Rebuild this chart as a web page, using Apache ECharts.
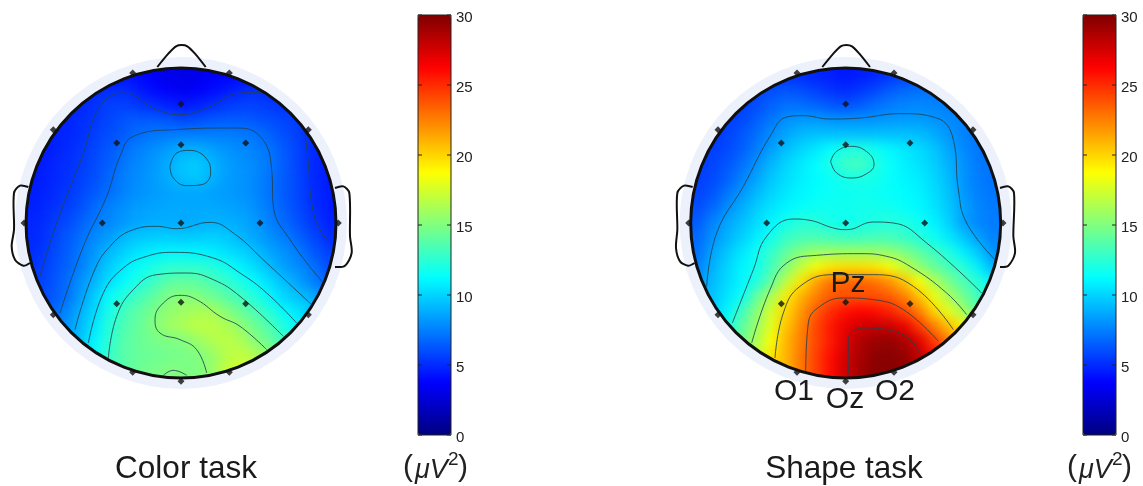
<!DOCTYPE html>
<html><head><meta charset="utf-8">
<style>
html,body{margin:0;padding:0;background:#fff;width:1143px;height:486px;overflow:hidden}
.clip{position:absolute;left:0;top:0;width:1143px;height:486px}
.heat{position:absolute;left:0;top:0;width:1143px;height:486px;filter:blur(6px)}
#top{position:absolute;left:0;top:0;width:1143px;height:486px}
</style>
<script src="https://cdn.jsdelivr.net/npm/echarts@6/dist/echarts.min.js"></script>
</head><body>
<div class="clip" style="clip-path:circle(155px at 181px 223px)"><div class="heat" id="heatL"></div></div>
<div class="clip" style="clip-path:circle(155px at 845.7px 223px)"><div class="heat" id="heatR"></div></div>
<div id="top"></div>
<script>
// Scalp values (µV²), rows top to bottom, columns left to right
const colorTaskValues = [
[4.4,4.4,4.4,4.4,4.4,4.3,4.2,3.9,3.5,3.2,3,3.2,3.5,3.8,4,4.3,4.5,4.5,4.5,4.5,4.5],
[4.4,4.4,4.4,4.6,4.8,5,5,4.5,4,3.6,3.4,3.6,4,4.4,4.8,5,4.9,4.8,4.7,4.7,4.7],
[4.4,4.4,4.5,4.8,5.2,5.6,5.6,5.3,5,4.6,4.3,4.6,5,5.4,5.6,5.6,5.4,5.2,5,5,5],
[4.4,4.5,4.7,5.1,5.3,5.8,6.2,6.4,6.4,6.2,5.8,6,6.3,6.4,6.4,6.2,6,5.7,5.4,5,4.8],
[4.4,4.6,4.8,5.1,5.6,6,6.4,6.9,7.2,7.3,7.4,7.4,7.4,7.4,7.3,7.1,6.6,6,5.5,5,4.8],
[4.4,4.6,4.9,5.3,5.8,6.3,6.9,7.5,7.9,8.3,8.8,8.9,8.5,8.1,7.8,7.5,7.1,6.3,5.6,4.9,4.6],
[4.4,4.7,5,5.4,5.9,6.5,7.2,7.7,8.2,8.8,9.5,9.7,9.1,8.4,8,7.7,7.2,6.4,5.6,4.9,4.5],
[4.5,4.8,5.1,5.6,6.1,6.8,7.5,7.9,8.3,8.8,9.4,9.6,9,8.4,8.1,7.7,7.1,6.4,5.7,4.9,4.5],
[4.6,4.9,5.3,5.8,6.4,7,7.6,8,8.3,8.5,8.6,8.6,8.5,8.3,8.1,7.7,7.1,6.4,5.7,5,4.5],
[4.7,5.1,5.5,6.1,6.9,7.6,8,8.4,8.6,8.7,8.7,8.7,8.7,8.6,8.4,7.9,7.3,6.5,5.8,5.1,4.5],
[4.8,5.3,5.8,6.5,7.3,7.7,8.2,8.6,8.8,8.8,8.7,8.8,9,8.9,8.7,8.2,7.5,6.8,6,5.3,4.7],
[4.9,5.5,6.2,7,7.8,8.4,9.2,9.6,9.8,9.8,9.7,9.8,9.9,9.7,9.1,8.6,8,7.4,6.6,5.8,5],
[5.1,5.7,6.4,7.3,8.2,9.2,9.9,10.5,10.8,11,11,10.95,10.8,10.4,10,9.4,8.6,8,7.3,6.3,5.6],
[5.3,5.9,6.6,7.4,8.6,9.8,10.7,11.4,12,12.5,12.6,12.6,12.3,11.7,10.9,10.2,9.3,8.4,7.8,7.1,6],
[5.5,6,6.8,8,9.1,10.3,11.2,12.1,13,13.9,14.1,14,13.4,12.8,11.9,11.1,10.2,9.3,8.4,7.4,6.5],
[5.6,6.2,6.9,8.3,9.8,11.4,12.3,13.2,14,14.9,15.2,15.1,14.5,13.8,13.1,12.2,11,10,9.4,8.8,7.2],
[6,6.5,7.6,8.9,10.2,11.9,13.2,14,14.8,15.5,15.9,16.2,16.2,15.2,14.3,13.4,12.3,11.1,10.4,9.5,8],
[6.5,7,8,9.2,10.6,12.3,13.5,14.2,15,15.8,16.3,16.8,16.8,16.4,15.4,14.4,13.5,12,11,10,8.8],
[7,7.5,8.3,9.5,11,12.5,13.8,14.3,14.7,14.9,15,15.7,16.4,16.8,16.3,15.2,14.2,13,11.5,10.5,9],
[7,8,9,10,11.5,12.9,13.8,14.2,14.4,14.6,14.8,14.9,15.6,16.6,17,16.4,15.4,14,12.5,11,9.5],
[7,8,9,10,11.5,13,13.8,14.4,14.8,15,15,14.9,15.6,17,17.5,17,15.8,14.4,13,11.5,10]
];
const shapeTaskValues = [
[6,5.8,5.6,5.4,5.3,5.2,5.1,5,4.8,4.6,4.4,4.6,4.8,5.2,5.6,6,6.3,6.5,6.5,6.5,6.5],
[5.5,5.4,5.3,5.4,5.6,6,6.2,6,5.6,5.2,5,5.3,5.8,6.4,6.8,7,7,6.9,6.8,6.8,6.8],
[5.2,5.2,5.3,5.6,6,6.6,7,6.9,6.6,6.2,6,6.4,6.9,7.3,7.6,7.7,7.6,7.4,7.2,7,7],
[5.2,5.3,5.5,5.9,6.5,7.2,8,8.2,8.2,8,8,8,8.1,8.2,8.3,8.3,8.1,7.8,7.5,7.2,7],
[5.2,5.4,5.7,6.3,7,7.9,8.6,9.2,9.4,9.4,9.4,9.4,9.4,9.4,9.4,9.3,8.8,8.1,7.6,7.2,7],
[5.3,5.5,5.9,6.5,7.4,8.4,9.4,10,10.6,11.2,12,12.2,11.6,11,10.6,10.2,9.6,8.6,7.8,7.2,7],
[5.4,5.7,6.2,7,8,9.1,10,10.6,11.2,12,13,13.2,12.2,11.4,10.8,10.4,9.8,8.9,8,7.3,7],
[5.5,5.9,6.6,7.6,8.6,9.6,10.3,10.8,11.2,11.5,11.9,12,11.8,11.4,11,10.7,10.1,9.2,8.1,7.4,7.1],
[5.7,6.2,7.2,8.2,9.2,10,10.6,11,11.3,11.5,11.6,11.7,11.6,11.4,11.2,10.9,10.3,9.4,8.2,7.5,7.2],
[6,6.8,7.9,8.9,9.8,10.5,11,11.4,11.6,11.7,11.7,11.8,11.8,11.7,11.4,11.1,10.5,9.6,8.5,7.7,7.3],
[6.4,7.6,8.6,9.4,10.2,11,11.8,12.4,12.3,11.9,11.7,11.9,12.1,12.3,12.1,11.6,10.9,9.9,8.4,7.7,7.3],
[6.8,8,9,9.9,10.8,11.8,12.9,13.3,13.4,13.2,13,13.1,13.3,13.3,12.9,12.3,11.6,10.6,9.6,8.4,7.6],
[7,8.6,9.6,10.6,11.6,12.8,14.1,15.2,15.8,15.9,15.9,15.9,15.8,15.5,14.9,14,13.1,12.1,10.8,9.6,8],
[7.4,9,10,11,11.7,13.3,15.2,17,18.5,19.4,19.6,19.6,19.4,18.6,17.1,15.5,14.3,13.3,12.3,10.8,9],
[8,9.2,10.2,11,12.2,14.2,16.8,19.5,21.5,23,23.4,23.4,23,22,20.5,18.7,16.5,14.8,13.5,12.4,11],
[8.5,9.5,10.5,11.5,14.2,16.3,19.3,21,22.5,23.7,23.95,24,24,23.6,22.5,20.5,18.3,16.2,14.6,13,12],
[8.8,9.8,11,13.2,15.3,17.6,20,21.8,23.6,25,25.8,26.2,26,25.3,24.2,22.5,20,18,16,14,12.5],
[9,10,11.8,14,15.8,18,20.5,22.3,24.2,25.6,26.8,27.6,27.9,27.8,26.8,24.6,22.5,20.6,19,17,15],
[9,10.5,12.3,14.5,16.4,18.7,21,22.6,24.2,25.6,27.2,28.6,29.2,29.4,28.8,27.2,24.6,22.5,20.5,19,17],
[9,11,13,15,17,19.5,21,22.8,24.4,26,27.5,28.8,29.6,29.8,29.4,28,26,24,22,20,18],
[9,11,13,15,17,19.5,21,22.8,24.4,26,27.7,29,29.7,29.8,29.5,28.5,26.5,24.5,22.5,20.5,18.5]
];
// Contour traces, in head-axis units
const colorTaskContours = [
[[120,740],[170,580],[250,370],[300,230],[370,190],[470,240],[540,255],[620,235],[720,190],[790,188]],
[[915,310],[925,400],[935,520],[960,600],[1000,650]],
[[180,850],[250,650],[320,500],[360,380],[400,320],[520,300],[700,295],[780,320],[815,420],[820,530],[870,630],[970,760]],
[[510,410],[530,370],[570,362],[625,395],[632,430],[605,465],[560,468],[520,445],[510,410]],
[[225,900],[280,730],[330,650],[400,600],[470,590],[530,597],[630,578],[700,610],[800,700],[935,825]],
[[265,940],[310,790],[370,715],[440,680],[520,668],[640,685],[720,730],[800,790],[890,880]],
[[325,985],[350,860],[400,780],[470,735],[560,730],[640,750],[720,800],[850,920]],
[[620,1030],[590,960],[540,930],[480,910],[465,870],[490,820],[540,797],[590,810],[660,860],[720,890],[800,960]],
[[490,1037],[520,1022],[560,1037]]
];
const shapeTaskContours = [
[[140,770],[170,610],[250,470],[330,320],[380,262],[430,258],[510,268],[600,265],[720,252],[830,265],[880,330],[895,480],[920,580],[1005,690]],
[[512,395],[530,365],[575,350],[625,370],[642,405],[620,432],[575,445],[530,430],[512,395]],
[[217,880],[280,720],[320,620],[400,568],[450,572],[520,595],[560,600],[640,577],[700,580],[800,640],[965,790]],
[[275,940],[330,780],[380,700],[470,677],[600,672],[680,680],[750,710],[860,790],[920,855]],
[[345,985],[370,850],[420,770],[520,735],[640,735],[760,770],[880,900]],
[[437,1030],[445,880],[480,830],[550,805],[640,810],[730,840],[835,935]],
[[565,1035],[565,930],[610,895],[680,900],[750,930],[780,975]]
];
const colorTaskElectrodes = [[543,223],[350,340],[543,345],[737,340],[307,580],[543,580],[780,580],[350,822],[543,818],[737,822],[398,130],[688,130],[160,300],[925,300],[72,580],[1015,580],[160,855],[925,855],[398,1028],[688,1028],[543,1055]];
const shapeTaskElectrodes = [[557,223],[364,340],[557,345],[750,340],[320,580],[557,580],[794,580],[364,822],[557,818],[750,822],[411,130],[702,130],[174,300],[939,300],[86,580],[1029,580],[174,855],[939,855],[411,1028],[702,1028],[557,1055]];
const colorTaskOutline = [
[[472,112],[505,72],[528,50],[545,46],[562,50],[585,72],[617,112]],
[[85,472],[60,468],[42,490],[42,600],[35,650],[45,690],[70,708],[90,700]],
[[1005,475],[1030,470],[1048,490],[1050,620],[1055,670],[1035,708],[1005,712]]
];
const shapeTaskOutline = [
[[487,112],[520,72],[542,50],[559,46],[576,50],[598,72],[630,112]],
[[98,472],[72,468],[52,490],[52,600],[48,655],[60,695],[84,708],[104,700]],
[[1020,475],[1045,470],[1062,490],[1060,620],[1065,670],[1045,708],[1020,712]]
];
const colorTaskHead = [[543,580,465]];
const shapeTaskHead = [[557,580,465]];
const scaleTicks = [0,5,10,15,20,25,30];
const jet = ['#000080','#0000ff','#0080ff','#00ffff','#80ff80','#ffff00','#ff8000','#ff0000','#800000'];

function heat(id, values, left){
  const n = values.length, pad = 2, cell = 310/n, cats = [], data = [];
  for(let i=0;i<n+2*pad;i++) cats.push(i);
  for(let r=0;r<n+2*pad;r++) for(let c=0;c<n+2*pad;c++){
    const rr = Math.min(n-1,Math.max(0,r-pad)), cc = Math.min(n-1,Math.max(0,c-pad));
    data.push([c,r,values[rr][cc]]);
  }
  echarts.init(document.getElementById(id)).setOption({
    animation:false,
    grid:{left:left-pad*cell,top:68-pad*cell,width:310+2*pad*cell,height:310+2*pad*cell},
    xAxis:{type:'category',data:cats,show:false},
    yAxis:{type:'category',data:cats,inverse:true,show:false},
    visualMap:{show:false,min:0,max:30,inRange:{color:jet}},
    series:[{type:'heatmap',data:data,silent:true,progressive:0}]
  });
}
heat('heatL',colorTaskValues,26);
heat('heatR',shapeTaskValues,690.67);

const chart = echarts.init(document.getElementById('top'));
const grids=[], xs=[], ys=[], series=[], vms=[];
function head(left,xMin,contours,electrodes,outline,hd){
  const g=grids.length;
  grids.push({left:left,top:68,width:310,height:310});
  xs.push({type:'value',gridIndex:g,min:xMin,max:xMin+930,show:false});
  ys.push({type:'value',gridIndex:g,min:115,max:1045,inverse:true,show:false});
  const base={xAxisIndex:g,yAxisIndex:g,silent:true};
  series.push(Object.assign({type:'custom',data:hd,z:1,renderItem:(p,api)=>{
    const c=api.coord([api.value(0),api.value(1)]), r=api.size([api.value(2),0])[0];
    return {type:'ring',shape:{cx:c[0],cy:c[1],r0:r,r:r+11},style:{fill:'#edf1fb'}};
  }},base));
  contours.forEach(d=>series.push(Object.assign({type:'line',data:d,smooth:0.45,symbol:'none',clip:false,z:3,
    lineStyle:{color:'#24424f',width:1,opacity:.85}},base)));
  series.push(Object.assign({type:'custom',data:hd,z:4,renderItem:(p,api)=>{
    const c=api.coord([api.value(0),api.value(1)]), r=api.size([api.value(2),0])[0];
    return {type:'circle',shape:{cx:c[0],cy:c[1],r:r},style:{fill:'none',stroke:'#101010',lineWidth:3}};
  }},base));
  outline.forEach(d=>series.push(Object.assign({type:'custom',data:d,z:4,clip:false,renderItem:(p,api)=>{
    if(p.dataIndex!==0) return null;
    return {type:'polyline',shape:{points:d.map(q=>api.coord(q)),smooth:0.3},style:{fill:'none',stroke:'#111',lineWidth:2}};
  }},base)));
  series.push(Object.assign({type:'scatter',data:electrodes,symbol:'diamond',symbolSize:7,clip:false,z:5,
    itemStyle:{color:'#111'}},base));
}
function scale(left){
  const g=grids.length;
  grids.push({left:left,top:15,width:33,height:420,show:true,borderColor:'#222',borderWidth:1,backgroundColor:'transparent',z:10});
  xs.push({type:'value',gridIndex:g,show:false,min:0,max:1});
  ys.push({type:'value',gridIndex:g,min:scaleTicks[0],max:scaleTicks[scaleTicks.length-1],interval:5,position:'right',
    axisLine:{show:false},splitLine:{show:false},axisTick:{show:false},
    axisLabel:{show:true,margin:5,color:'#222',fontSize:15,fontFamily:'Liberation Sans',verticalAlign:'top',lineHeight:6}});
  series.push({type:'custom',xAxisIndex:g,yAxisIndex:g,silent:true,z:10,data:scaleTicks.map(v=>[0,v]),clip:false,renderItem:(p,api)=>{
    const a=api.coord([0,api.value(1)]), b=api.coord([1,api.value(1)]);
    return {type:'group',children:[
      {type:'line',shape:{x1:a[0],y1:a[1],x2:a[0]+4,y2:a[1]},style:{stroke:'#222',lineWidth:1}},
      {type:'line',shape:{x1:b[0]-4,y1:a[1],x2:b[0],y2:a[1]},style:{stroke:'#222',lineWidth:1}}
    ]};
  }});
  vms.push({type:'continuous',min:0,max:30,left:left,top:15,itemWidth:33,itemHeight:420,padding:0,calculable:false,
    realtime:false,hoverLink:false,seriesIndex:[],inRange:{color:jet},text:null,z:4});
}
head(26,78,colorTaskContours,colorTaskElectrodes,colorTaskOutline,colorTaskHead);
head(690.67,92,shapeTaskContours,shapeTaskElectrodes,shapeTaskOutline,shapeTaskHead);
scale(418);
scale(1083);

const txt=(t,x,y,size)=>({type:'text',z:20,style:{text:t,x:x,y:y,fontSize:size,fontFamily:'Liberation Sans',fill:'#1a1a1a',textAlign:'center',textVerticalAlign:'middle'}});
const unit=(x)=>({type:'group',z:20,children:[
  {type:'text',style:{text:'(',x:x,y:468,fontSize:30,fontFamily:'Liberation Sans',fill:'#222',textVerticalAlign:'middle',textAlign:'left'}},
  {type:'text',style:{text:'μV',x:x+12,y:470,fontSize:27,fontStyle:'italic',fontFamily:'Liberation Sans',fill:'#222',textVerticalAlign:'middle',textAlign:'left'}},
  {type:'text',style:{text:'2',x:x+45,y:460,fontSize:19,fontFamily:'Liberation Sans',fill:'#222',textVerticalAlign:'middle',textAlign:'left'}},
  {type:'text',style:{text:')',x:x+55,y:468,fontSize:30,fontFamily:'Liberation Sans',fill:'#222',textVerticalAlign:'middle',textAlign:'left'}}
]});
chart.setOption({
  animation:false,
  grid:grids, xAxis:xs, yAxis:ys,
  visualMap:vms,
  series:series,
  graphic:[
    txt('Color task',186,469,31.5), txt('Shape task',844,469,31.5),
    unit(403), unit(1067),
    txt('Pz',848,284,30), txt('O1',794,392,30), txt('Oz',845,400,30), txt('O2',895,392,30)
  ]
});
</script>
</body></html>
